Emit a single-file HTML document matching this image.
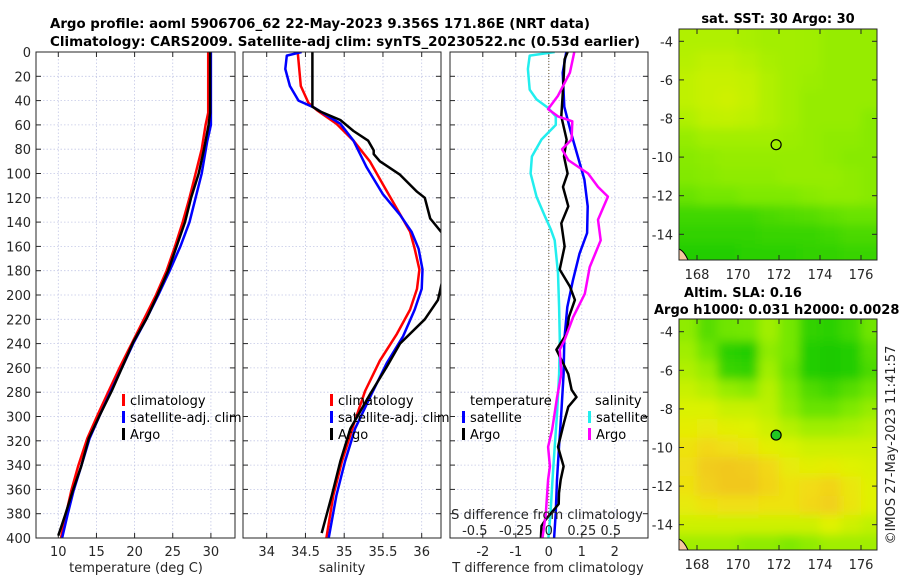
<!DOCTYPE html>
<html><head><meta charset="utf-8"><style>
html,body{margin:0;padding:0;background:#fff;}
svg{display:block;font-family:"DejaVu Sans","Liberation Sans",sans-serif;}
</style></head><body>
<svg id="fig" width="900" height="580" viewBox="0 0 900 580" xmlns="http://www.w3.org/2000/svg">
<defs>
<clipPath id="c1"><rect x="36" y="52" width="199" height="486"/></clipPath>
<clipPath id="c2"><rect x="243" y="52" width="198" height="486"/></clipPath>
<clipPath id="c3"><rect x="450" y="52" width="198" height="486"/></clipPath>
<clipPath id="cm1"><rect x="679" y="29" width="198" height="231"/></clipPath>
<clipPath id="cm2"><rect x="679" y="319" width="198" height="231"/></clipPath>
<filter id="blur" x="-10%" y="-10%" width="120%" height="120%"><feGaussianBlur stdDeviation="5"/></filter>
</defs>
<text x="50" y="28" font-size="13" font-weight="bold" textLength="540" lengthAdjust="spacingAndGlyphs">Argo profile: aoml 5906706_62 22-May-2023 9.356S 171.86E (NRT data)</text>
<text x="50" y="46" font-size="13" font-weight="bold" textLength="590" lengthAdjust="spacingAndGlyphs">Climatology: CARS2009. Satellite-adj clim: synTS_20230522.nc (0.53d earlier)</text>
<text x="778" y="23" font-size="13" font-weight="bold" text-anchor="middle">sat. SST: 30 Argo: 30</text>
<text x="743" y="297" font-size="13" font-weight="bold" text-anchor="middle">Altim. SLA: 0.16</text>
<text x="654" y="314" font-size="13" font-weight="bold">Argo h1000: 0.031 h2000: 0.0028</text>
<text transform="translate(895,445) rotate(-90)" font-size="13" fill="#262626" text-anchor="middle">©IMOS 27-May-2023 11:41:57</text>
</svg>
<script>
// ---------- data ----------
const depthTicks = [0,20,40,60,80,100,120,140,160,180,200,220,240,260,280,300,320,340,360,380,400];
const tempTicks = [10,15,20,25,30];
const salTicks = [34,34.5,35,35.5,36];
const salTickLabels = ["34","34.5","35","35.5","36"];
const diffTicks = [-2,-1,0,1,2];
const sDiffTickLabels = ["-0.5","-0.25","0","0.25","0.5"];
const sDiffTicks = [-0.5,-0.25,0,0.25,0.5];

const tClimDepth = [0,50,60,80,100,120,140,160,180,200,219,239,259,279,298,318,341,361,381,400];
const tClim = [29.65,29.65,29.3,28.8,28.0,27.2,26.3,25.3,24.2,22.8,21.3,19.7,18.1,16.6,15.2,13.8,12.6,11.7,11.0,10.35];
const tSatDepth = [0,60,74,100,120,140,160,180,200,219,239,259,279,298,318,341,361,381,400];
const tSat = [30.0,30.0,29.5,28.8,28.0,27.2,26.0,24.6,23.1,21.6,19.9,18.4,16.9,15.5,14.1,13.0,12.0,11.2,10.5];
const tArgoDepth = [0,50,60,80,100,120,140,160,180,200,219,239,259,279,298,318,341,361,381,398];
const tArgo = [29.9,29.9,29.7,29.1,28.4,27.4,26.6,25.5,24.4,23.0,21.6,19.8,18.4,17.0,15.5,14.0,13.0,11.9,10.9,10.0];

const sClimDepth = [0,28,42,48,59,73,90,109,129,148,162,179,195,212,232,254,279,307,337,365,400];
const sClim = [34.40,34.44,34.54,34.65,34.9,35.12,35.33,35.5,35.68,35.85,35.91,35.97,35.94,35.85,35.68,35.46,35.27,35.12,34.97,34.86,34.77];
const sSatDepth = [0,3,14,28,40,46,59,73,95,117,134,148,162,179,195,212,234,256,282,310,337,365,400];
const sSat = [34.45,34.26,34.24,34.30,34.41,34.62,34.95,35.12,35.29,35.5,35.72,35.87,35.96,36.01,36.0,35.91,35.76,35.55,35.35,35.14,35.01,34.9,34.8];
const sArgoDepth = [0,45,49,56,65,73,81,84,90,101,115,120,137,148,160,175,190,204,220,240,259,282,310,337,365,396];
const sArgo = [34.59,34.59,34.69,34.95,35.12,35.31,35.38,35.38,35.46,35.72,35.94,36.04,36.11,36.25,36.45,36.45,36.26,36.21,36.04,35.72,35.55,35.33,35.08,34.95,34.84,34.71];

const dTSatDepth = [0,17,45,67,86,105,127,149,166,188,210,237,265,297,325,352,380,400];
const dTSat = [0.53,0.42,0.47,0.68,0.88,1.08,1.18,1.16,0.93,0.73,0.56,0.47,0.45,0.38,0.31,0.25,0.21,0.16];
const dTArgoDepth = [0,6,31,53,72,86,100,111,127,141,160,179,193,204,218,232,245,256,265,278,284,292,305,325,341,352,363,372,385,390,400];
const dTArgo = [0.57,0.48,0.43,0.38,0.54,0.46,0.57,0.43,0.59,0.38,0.48,0.33,0.64,0.79,0.61,0.54,0.23,0.43,0.59,0.69,0.84,0.59,0.46,0.28,0.45,0.36,0.31,0.3,-0.1,-0.22,-0.24];
const dSSatDepth = [0,3,14,31,39,46,53,60,72,86,100,119,135,146,155,182,210,237,265,297,325,352,380,400];
const dSSat = [0.045,-0.145,-0.158,-0.145,-0.093,-0.005,0.053,0.053,-0.055,-0.128,-0.138,-0.093,-0.03,0.015,0.045,0.07,0.078,0.083,0.078,0.063,0.045,0.028,0.013,-0.003];
const dSArgoDepth = [0,17,36,47,53,57,72,80,89,100,111,119,138,155,177,199,218,237,245,265,284,297,311,325,341,352,380,400];
const dSArgo = [0.193,0.16,0.07,-0.005,0.07,0.178,0.173,0.1,0.148,0.298,0.373,0.448,0.373,0.393,0.31,0.273,0.185,0.12,0.083,0.095,0.063,0.045,0.025,-0.005,0.008,-0.005,-0.023,-0.048];

const lonTicks = [168,170,172,174,176];
const latTicks = [-4,-6,-8,-10,-12,-14];
const gridLons = [167.5,168.5,169.5,170.5,171.5,172.5,173.5,174.5,175.5,176.5];
const gridLats = [-4,-5,-6,-7,-8,-9,-10,-11,-12,-13,-14,-15];
const sstGrid = [
[.5,.5,.5,.48,.46,.46,.45,.42,.42,.42],
[.52,.55,.55,.52,.48,.46,.45,.42,.42,.42],
[.55,.58,.58,.56,.5,.46,.44,.42,.42,.42],
[.55,.58,.6,.57,.5,.46,.42,.42,.42,.42],
[.5,.55,.56,.54,.5,.46,.42,.42,.42,.38],
[.42,.46,.46,.46,.46,.44,.42,.4,.4,.38],
[.38,.4,.42,.42,.42,.42,.42,.4,.38,.38],
[.36,.38,.4,.4,.4,.42,.42,.42,.4,.38],
[.28,.32,.32,.35,.35,.35,.38,.4,.4,.38],
[.15,.15,.15,.15,.18,.2,.22,.25,.28,.28],
[.1,.1,.1,.1,.12,.12,.12,.15,.18,.18],
[.05,.05,.05,.08,.08,.08,.1,.1,.12,.12]];
const slaGrid = [
[.4,.22,.3,.32,.45,.32,.1,.08,.15,.3],
[.45,.3,.08,.05,.4,.32,.05,.02,.05,.22],
[.5,.42,.12,.1,.45,.28,.05,.02,.05,.18],
[.58,.52,.42,.38,.52,.35,.2,.15,.22,.3],
[.64,.64,.58,.58,.54,.4,.28,.28,.35,.42],
[.7,.72,.68,.66,.6,.52,.45,.45,.48,.52],
[.78,.84,.8,.76,.68,.64,.6,.6,.6,.6],
[.8,.9,.92,.9,.84,.72,.68,.7,.66,.64],
[.78,.88,.92,.92,.86,.78,.82,.86,.75,.66],
[.72,.78,.8,.8,.78,.78,.84,.88,.76,.66],
[.6,.6,.6,.6,.6,.6,.6,.66,.6,.55],
[.45,.45,.45,.4,.4,.35,.4,.45,.45,.45]];
const argoLon = 171.86, argoLat = -9.356;

// ---------- helpers ----------
const NS = "http://www.w3.org/2000/svg";
const svg = document.getElementById('fig');
function mk(tag, attrs, parent){ const e=document.createElementNS(NS,tag); for(const k in attrs) e.setAttribute(k,attrs[k]); (parent||svg).appendChild(e); return e; }
const Y0=52, Y1=538;
const yD = d => Y0 + d*(Y1-Y0)/400;
const xT = t => 58.3 + (t-10)*7.63;
const xS = s => 266.7 + (s-34)*77.5;
const xDT = v => 548.8 + v*33;
const xDS = v => 548.8 + v*4*33;
const TXT = "#262626";

function panel(name, x0, x1, xTicks, xTickLabels, xFn, clip, showY){
  const g = mk('g', {});
  
  
  mk('rect',{x:x0,y:Y0,width:x1-x0,height:Y1-Y0,fill:'#fff'},g);
  depthTicks.forEach(d=>{
    const l = mk('line',{x1:x0,x2:x1,y1:yD(d),y2:yD(d),stroke:'#c4c8e6','stroke-width':0.8,'stroke-dasharray':'1.5,2'},g);
    
    
    mk('line',{x1:x0,x2:x0+5,y1:yD(d),y2:yD(d),stroke:TXT,'stroke-width':1},g);
    mk('line',{x1:x1-5,x2:x1,y1:yD(d),y2:yD(d),stroke:TXT,'stroke-width':1},g);
    if(showY){
      const t = mk('text',{x:x0-5,y:yD(d)+5,'font-size':13,fill:TXT,'text-anchor':'end'},g);
      t.textContent = d;
      
      
    }
  });
  xTicks.forEach((v,i)=>{
    const x = xFn(v);
    const l = mk('line',{x1:x,x2:x,y1:Y0,y2:Y1,stroke:'#c4c8e6','stroke-width':0.8,'stroke-dasharray':'1.5,2'},g);
    
    
    mk('line',{x1:x,x2:x,y1:Y1,y2:Y1-5,stroke:TXT,'stroke-width':1},g);
    mk('line',{x1:x,x2:x,y1:Y0,y2:Y0+5,stroke:TXT,'stroke-width':1},g);
    const t = mk('text',{x:x,y:556,'font-size':13,fill:TXT,'text-anchor':'middle'},g);
    t.textContent = xTickLabels[i];
    
    
  });
  return g;
}
function series(g, name, depths, vals, xFn, color, clip, w){
  const pts = depths.map((d,i)=>xFn(vals[i]).toFixed(1)+','+yD(d).toFixed(1)).join(' ');
  const p = mk('polyline',{points:pts,fill:'none',stroke:color,'stroke-width':w||2.5,'stroke-linejoin':'round','clip-path':'url(#'+clip+')'},g);
  
  
}
function frame(g,x0,x1){ mk('rect',{x:x0,y:Y0,width:x1-x0,height:Y1-Y0,fill:'none',stroke:TXT,'stroke-width':1},g); }
function legendItem(g, name, x, y, color, label){
  const it = mk('g',{},g);
  
  
  if(color) mk('rect',{x:x,y:y-6,width:3,height:12,fill:color},it);
  const t = mk('text',{x:color?x+8:x,y:y+5,'font-size':13,fill:'#000'},it);
  t.textContent = label;
}
function xlabel(g,name,x,y,txt){
  const t = mk('text',{x:x,y:y,'font-size':13,fill:TXT,'text-anchor':'middle'},g);
  t.textContent = txt;
  
  
}

// ---------- panel 1: temperature ----------
const g1 = panel('temperature-panel',36,235,tempTicks,tempTicks.map(String),xT,'c1',true);
series(g1,'temp-climatology-line',tClimDepth,tClim,xT,'#ff0000','c1');
series(g1,'temp-satellite-line',tSatDepth,tSat,xT,'#0000ff','c1');
series(g1,'temp-argo-line',tArgoDepth,tArgo,xT,'#000000','c1');
frame(g1,36,235);
legendItem(g1,'legend-climatology',122,400,'#ff0000','climatology');
legendItem(g1,'legend-satellite-adj',122,417,'#0000ff','satellite-adj. clim');
legendItem(g1,'legend-argo',122,434,'#000000','Argo');
xlabel(g1,'temperature-axis-title',136,572,'temperature (deg C)');

// ---------- panel 2: salinity ----------
const g2 = panel('salinity-panel',243,441,salTicks,salTickLabels,xS,'c2',false);
series(g2,'sal-climatology-line',sClimDepth,sClim,xS,'#ff0000','c2');
series(g2,'sal-satellite-line',sSatDepth,sSat,xS,'#0000ff','c2');
series(g2,'sal-argo-line',sArgoDepth,sArgo,xS,'#000000','c2');
frame(g2,243,441);
legendItem(g2,'legend-climatology',330,400,'#ff0000','climatology');
legendItem(g2,'legend-satellite-adj',330,417,'#0000ff','satellite-adj. clim');
legendItem(g2,'legend-argo',330,434,'#000000','Argo');
xlabel(g2,'salinity-axis-title',342,572,'salinity');

// ---------- panel 3: differences ----------
const g3 = panel('difference-panel',450,648,diffTicks,diffTicks.map(String),xDT,'c3',false);
mk('line',{x1:xDT(0),x2:xDT(0),y1:Y0,y2:Y1,stroke:'#6b5a30','stroke-width':1,'stroke-dasharray':'1,2'},g3);
series(g3,'sal-diff-satellite-line',dSSatDepth,dSSat,xDS,'#22eeee','c3');
series(g3,'temp-diff-satellite-line',dTSatDepth,dTSat,xDT,'#0000ff','c3');
series(g3,'temp-diff-argo-line',dTArgoDepth,dTArgo,xDT,'#000000','c3');
series(g3,'sal-diff-argo-line',dSArgoDepth,dSArgo,xDS,'#ff00ff','c3');
frame(g3,450,648);
legendItem(g3,'legend-temperature-heading',470,400,null,'temperature');
legendItem(g3,'legend-temp-satellite',462,417,'#0000ff','satellite');
legendItem(g3,'legend-temp-argo',462,434,'#000000','Argo');
legendItem(g3,'legend-salinity-heading',595,400,null,'salinity');
legendItem(g3,'legend-sal-satellite',588,417,'#22eeee','satellite');
legendItem(g3,'legend-sal-argo',588,434,'#ff00ff','Argo');
xlabel(g3,'s-difference-axis-title',547,519,'S difference from climatology');
sDiffTicks.forEach((v,i)=>{
  const t = mk('text',{x:xDS(v)+(i==0?-8:i==4?-4:0),y:535,'font-size':13,fill:TXT,'text-anchor':'middle'},g3);
  t.textContent = sDiffTickLabels[i];
  
  
});
xlabel(g3,'t-difference-axis-title',548,572,'T difference from climatology');

// ---------- maps ----------
function lerp(a,b,t){return Math.round(a+(b-a)*t);}
const cmapStops=[[0,[20,200,0]],[0.33,[120,232,0]],[0.5,[176,240,0]],[0.66,[224,242,0]],[0.82,[242,220,20]],[1,[240,184,40]]];
function cmap(v){
  for(let i=1;i<cmapStops.length;i++){
    if(v<=cmapStops[i][0]){const a=cmapStops[i-1],b=cmapStops[i];const t=(v-a[0])/(b[0]-a[0]);
      return 'rgb('+lerp(a[1][0],b[1][0],t)+','+lerp(a[1][1],b[1][1],t)+','+lerp(a[1][2],b[1][2],t)+')';}
  }
  return 'rgb(240,184,40)';
}
function drawMap(name, grid, top, latY0, clip, filled){
  const g = mk('g',{});
  
  
  const lx = lon => 697 + (lon-168)*20.5;
  const ly = lat => latY0 + (-4-lat)*19.3;
  const cg = mk('g',{'clip-path':'url(#'+clip+')'},g);
  const bg = mk('g',{filter:'url(#blur)'},cg);
  grid.forEach((row,r)=>row.forEach((v,c)=>{
    const lon=gridLons[c], lat=gridLats[r];
    const xa = lx(lon-0.5-(c==0?1.5:0)), xb = lx(lon+0.5+(c==row.length-1?1.5:0));
    const ya = ly(lat+0.5+(r==0?1.5:0)), yb = ly(lat-0.5-(r==grid.length-1?1.5:0));
    const cell = mk('rect',{x:xa.toFixed(1),y:ya.toFixed(1),width:(xb-xa+0.6).toFixed(1),height:(yb-ya+0.6).toFixed(1),fill:cmap(v)},bg);
    
    
  }));
  mk('path',{d:'M679 '+(top+231)+' L679 '+(top+220)+' Q684 '+(top+222)+' 688 '+(top+231)+' Z',fill:'#f5c8a0',stroke:'#000','stroke-width':1},cg);
  mk('rect',{x:679,y:top,width:198,height:231,fill:'none',stroke:TXT,'stroke-width':1},g);
  lonTicks.forEach(lon=>{
    const x=lx(lon);
    mk('line',{x1:x,x2:x,y1:top+231,y2:top+226,stroke:TXT},g);
    mk('line',{x1:x,x2:x,y1:top,y2:top+5,stroke:TXT},g);
    const t=mk('text',{x:x,y:top+250,'font-size':13,fill:TXT,'text-anchor':'middle'},g);
    t.textContent=lon;
    
    
  });
  latTicks.forEach(lat=>{
    const y=ly(lat);
    mk('line',{x1:679,x2:684,y1:y,y2:y,stroke:TXT},g);
    mk('line',{x1:872,x2:877,y1:y,y2:y,stroke:TXT},g);
    const t=mk('text',{x:673,y:y+5,'font-size':13,fill:TXT,'text-anchor':'end'},g);
    t.textContent=lat;
    
    
  });
  const m = mk('circle',{cx:lx(argoLon),cy:ly(argoLat),r:5,fill:filled?'#22c822':'none',stroke:'#000','stroke-width':1.2},g);
  
  
}
drawMap('sst-map', sstGrid, 29, 41.3, 'cm1', false);
drawMap('sla-map', slaGrid, 319, 331.7, 'cm2', true);
</script>
</body></html>
